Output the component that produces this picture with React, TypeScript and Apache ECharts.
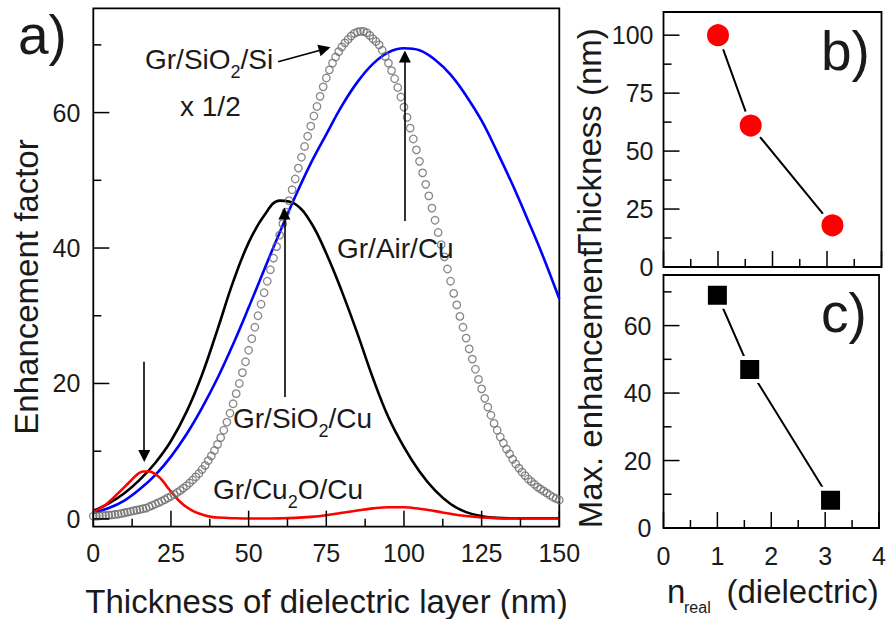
import React, { useEffect, useRef } from 'react';
import * as echarts from 'echarts';

const FONT = "'Liberation Sans', Arial, Helvetica, sans-serif";
const TEXT = '#1a1a1a';

// ---------- panel a) : enhancement factor vs thickness ----------
const lineX = [0, 5, 10, 15, 20, 25, 30, 35, 40, 45, 50, 55, 60, 65, 70, 75, 80, 85, 90, 95, 100, 105, 110, 115, 120, 125, 130, 135, 140, 145, 150];
const sio2CuY = [1.2, 2.3, 3.8, 5.8, 8.3, 11.5, 15.8, 21.3, 28.0, 35.0, 40.8, 44.8, 47.0, 46.5, 43.8, 39.2, 33.6, 27.4, 20.8, 15.0, 10.6, 7.0, 4.2, 2.2, 1.0, 0.4, 0.15, 0.1, 0.1, 0.1, 0.1];
const airCuY = [0.9, 1.6, 2.7, 4.4, 6.5, 9.2, 12.5, 16.4, 20.8, 25.8, 31.2, 36.8, 42.3, 47.6, 52.5, 56.8, 61.0, 64.5, 67.2, 68.9, 69.5, 69.2, 67.8, 65.6, 62.5, 58.8, 54.2, 49.3, 44.0, 38.5, 32.5];
const cu2oX = [0, 2, 4, 6, 8, 10, 12, 14, 16, 18, 20, 22, 24, 26, 28, 30, 32, 34, 36, 38, 40, 45, 50, 55, 60, 65, 70, 75, 80, 85, 90, 95, 100, 105, 110, 115, 120, 125, 130, 135, 140, 145, 150];
const cu2oY = [1.0, 1.5, 2.1, 2.9, 3.8, 4.7, 5.6, 6.5, 7.0, 7.0, 6.6, 5.8, 4.6, 3.5, 2.5, 1.75, 1.2, 0.8, 0.5, 0.3, 0.2, 0.1, 0.05, 0.05, 0.08, 0.15, 0.3, 0.55, 0.9, 1.25, 1.55, 1.72, 1.72, 1.5, 1.15, 0.75, 0.42, 0.2, 0.1, 0.06, 0.05, 0.05, 0.05];
// Gr/SiO2/Si (x 1/2), one circle per nm from 0 to 150 nm
const sio2SiStart = 0;
const sio2SiStep = 1;
const sio2SiY = [
  0.4, 0.4, 0.45, 0.5, 0.5, 0.55, 0.6, 0.65, 0.7, 0.8,
  0.9, 1.0, 1.1, 1.2, 1.3, 1.4, 1.5, 1.6, 1.8, 2.0,
  2.2, 2.4, 2.6, 2.85, 3.1, 3.35, 3.6, 3.9, 4.2, 4.55,
  4.9, 5.3, 5.75, 6.2, 6.7, 7.3, 7.9, 8.6, 9.3, 10.1,
  11.0, 12.0, 13.1, 14.3, 15.6, 17.0, 18.5, 20.0, 21.6, 23.2,
  24.9, 26.6, 28.3, 30.0, 31.7, 33.4, 35.1, 36.8, 38.5, 40.2,
  41.9, 43.6, 45.3, 47.0, 48.6, 50.2, 51.8, 53.4, 55.0, 56.5,
  58.0, 59.5, 60.9, 62.4, 63.8, 65.1, 66.3, 67.3, 68.2, 69.0,
  69.7, 70.3, 70.8, 71.3, 71.7, 71.9, 72.0, 72.0, 71.8, 71.4,
  70.9, 70.5, 70.0, 69.2, 68.3, 67.3, 66.2, 65.0, 63.7, 62.3,
  60.8, 59.3, 57.7, 56.1, 54.5, 52.8, 51.1, 49.4, 47.7, 45.9,
  44.1, 42.3, 40.5, 38.7, 36.9, 35.1, 33.3, 31.6, 29.9, 28.3,
  26.7, 25.1, 23.6, 22.1, 20.6, 19.2, 17.8, 16.5, 15.3, 14.1,
  13.1, 12.1, 11.2, 10.3, 9.6, 8.8, 8.1, 7.5, 6.9, 6.4,
  5.9, 5.5, 5.1, 4.7, 4.4, 4.1, 3.8, 3.5, 3.2, 3.0,
  2.8,
];
const mainXMajor = [0, 25, 50, 75, 100, 125, 150];
const mainXMinor = [12.5, 37.5, 62.5, 87.5, 112.5, 137.5];
const mainYMajor = [0, 20, 40, 60];
const mainYMinor = [10, 30, 50, 70];

// ---------- panel b) and c) ----------
const nReal = [1, 1.6, 3.1];
const optThickness = [100, 61, 18];
const maxEnhancement = [69, 47, 8.2];
const nXMajor = [0, 1, 2, 3, 4];
const nXMinor = [0.5, 1.5, 2.5, 3.5];
const bYMajor = [0, 25, 50, 75, 100];
const bYMinor = [12.5, 37.5, 62.5, 87.5];
const cYMajor = [0, 20, 40, 60];
const cYMinor = [10, 30, 50, 70];

// arrows (tail -> head) in data coordinates of panel a)
const ARROWS: { from: number[]; to: number[] }[] = [
  { from: [59.5, 67.5], to: [74.5, 69.4] },
  { from: [100.3, 44.0], to: [100.3, 68.3] },
  { from: [61.5, 18.0], to: [61.5, 45.1] },
  { from: [16.4, 23.2], to: [16.4, 9.3] },
];

const zip = (xs: number[], ys: number[]) => xs.map((x, i) => [x, ys[i]]);

const BLACK = '#000';
const BORDER_W = 1.8;
const MAJOR_LEN = 16;
const MINOR_LEN = 8;

// layout of the three plot frames (pixels) and their axis ranges
const GRIDS = [
  { left: 93.3, top: 8.3, width: 466, height: 518.4, xMin: 0, xMax: 150, yMin: -1.15, yMax: 75.4 },
  { left: 663.5, top: 12, width: 218, height: 255, xMin: 0, xMax: 4, yMin: 0, yMax: 110 },
  { left: 663.5, top: 275, width: 218, height: 253, xMin: 0, xMax: 4, yMin: 0, yMax: 75 },
];
const TICKS = [
  { xMajor: mainXMajor, xMinor: mainXMinor, yMajor: mainYMajor, yMinor: mainYMinor },
  { xMajor: nXMajor, xMinor: nXMinor, yMajor: bYMajor, yMinor: bYMinor },
  { xMajor: nXMajor, xMinor: nXMinor, yMajor: cYMajor, yMinor: cYMinor },
];

// tick records: [value, direction (0 = bottom axis, 1 = left axis), length in px]
function tickRecords(k: number) {
  const t = TICKS[k];
  const rec: number[][] = [];
  t.xMajor.forEach((v) => rec.push([v, 0, MAJOR_LEN]));
  t.xMinor.forEach((v) => rec.push([v, 0, MINOR_LEN]));
  t.yMajor.forEach((v) => rec.push([v, 1, MAJOR_LEN]));
  t.yMinor.forEach((v) => rec.push([v, 1, MINOR_LEN]));
  return rec;
}

// inward tick marks drawn by a custom series through the axes' own scales
function tickSeries(k: number) {
  const g = GRIDS[k];
  return {
    type: 'custom', name: 'ticks' + k, xAxisIndex: k, yAxisIndex: k, silent: true, z: 20, clip: false,
    animation: false, tooltip: { show: false },
    dimensions: ['v', 'dir', 'len'],
    encode: { x: -1, y: -1 },
    data: tickRecords(k),
    renderItem: (params: any, api: any) => {
      const v = api.value(0);
      const dir = api.value(1);
      const len = api.value(2);
      if (dir === 0) {
        const p = api.coord([v, g.yMin]);
        return { type: 'line', shape: { x1: p[0], y1: p[1], x2: p[0], y2: p[1] - len }, style: { stroke: BLACK, lineWidth: 1.5 } };
      }
      const p = api.coord([g.xMin, v]);
      return { type: 'line', shape: { x1: p[0], y1: p[1], x2: p[0] + len, y2: p[1] }, style: { stroke: BLACK, lineWidth: 1.5 } };
    },
  };
}

function xAxis(gridIndex: number, interval: number, showLabel: boolean, labelMargin: number) {
  const g = GRIDS[gridIndex];
  return {
    type: 'value', gridIndex, min: g.xMin, max: g.xMax, interval, position: 'bottom',
    axisLine: { show: false, onZero: false },
    axisTick: { show: false },
    axisLabel: { show: showLabel, fontSize: 25, fontFamily: FONT, color: TEXT, margin: labelMargin },
    splitLine: { show: false },
  };
}

function yAxis(gridIndex: number, major: number[], labelMargin: number) {
  const g = GRIDS[gridIndex];
  return {
    type: 'value', gridIndex, min: g.yMin, max: g.yMax, position: 'left',
    axisLine: { show: false, onZero: false },
    axisTick: { show: false },
    axisLabel: { show: true, customValues: major, fontSize: 25, fontFamily: FONT, color: TEXT, margin: labelMargin },
    splitLine: { show: false },
  };
}

function plainText(text: string, x: number, y: number, size: number, align: string, rotation = 0) {
  return {
    type: 'text', x, y, rotation, silent: true, z: 10,
    style: { text, fontSize: size, fontFamily: FONT, fill: TEXT, align, verticalAlign: 'middle' },
  };
}

function subText(rich: string, left: number, top: number) {
  return {
    type: 'text', x: left, y: top, silent: true, z: 10,
    style: {
      text: rich, align: 'left', verticalAlign: 'top',
      rich: {
        m: { fontSize: 28, fontFamily: FONT, fill: TEXT, verticalAlign: 'top' },
        s: { fontSize: 18, fontFamily: FONT, fill: TEXT, verticalAlign: 'top', padding: [18, 0, 0, 0] },
      },
    },
  };
}

const texts = [
  plainText('a)', 18, 35, 55, 'left'),
  plainText('b)', 821, 51, 55, 'left'),
  plainText('c)', 821, 313, 55, 'left'),
  plainText('Thickness of dielectric layer (nm)', 326.5, 601.5, 33, 'center'),
  plainText('Enhancement factor', 26, 287, 33, 'center', Math.PI / 2),
  plainText('Thickness (nm)', 589, 141, 33, 'center', Math.PI / 2),
  plainText('Max. enhancement', 590, 388, 33, 'center', Math.PI / 2),
  plainText('n', 667, 591.6, 33, 'left'),
  plainText('real', 684, 607.5, 16, 'left'),
  plainText('(dielectric)', 726.5, 591.6, 33, 'left'),
  subText('{m|Gr/SiO}{s|2}{m|/Si}', 145, 45),
  subText('{m|x 1/2}', 180, 92),
  subText('{m|Gr/Air/Cu}', 337, 234),
  subText('{m|Gr/SiO}{s|2}{m|/Cu}', 233, 404),
  subText('{m|Gr/Cu}{s|2}{m|O/Cu}', 213, 475),
];

const gridBase = { show: true, borderColor: BLACK, borderWidth: BORDER_W, backgroundColor: 'transparent' };

const option: any = {
  animation: false,
  backgroundColor: '#fff',
  grid: GRIDS.map((g) => ({ ...gridBase, left: g.left, top: g.top, width: g.width, height: g.height })),
  xAxis: [
    xAxis(0, 25, true, 14),
    xAxis(1, 1, false, 14),
    xAxis(2, 1, true, 15),
  ],
  yAxis: [
    yAxis(0, mainYMajor, 13),
    yAxis(1, bYMajor, 10),
    yAxis(2, cYMajor, 12),
  ],
  graphic: { elements: texts },
  series: [
    {
      name: 'Gr/SiO2/Cu', type: 'line', xAxisIndex: 0, yAxisIndex: 0, smooth: 0.4, showSymbol: false,
      data: zip(lineX, sio2CuY), lineStyle: { color: '#000', width: 2.6 }, itemStyle: { color: '#000' }, z: 3,
    },
    {
      name: 'Gr/Air/Cu', type: 'line', xAxisIndex: 0, yAxisIndex: 0, smooth: 0.4, showSymbol: false,
      data: zip(lineX, airCuY), lineStyle: { color: '#0000ff', width: 2.6 }, itemStyle: { color: '#0000ff' }, z: 3,
      markLine: {
        silent: true, symbol: ['none', 'triangle'], symbolSize: 12, animation: false,
        label: { show: false }, emphasis: { disabled: true },
        lineStyle: { color: '#000', width: 1.6, type: 'solid', opacity: 1 },
        itemStyle: { color: '#000' },
        data: ARROWS.map((a) => [{ coord: a.from }, { coord: a.to }]),
      },
    },
    {
      name: 'Gr/Cu2O/Cu', type: 'line', xAxisIndex: 0, yAxisIndex: 0, smooth: 0.4, showSymbol: false,
      data: zip(cu2oX, cu2oY), lineStyle: { color: '#ff0000', width: 2.6 }, itemStyle: { color: '#ff0000' }, z: 3,
    },
    {
      name: 'Gr/SiO2/Si', type: 'scatter', xAxisIndex: 0, yAxisIndex: 0, symbol: 'circle', symbolSize: 7.5,
      data: sio2SiY.map((v, i) => [sio2SiStart + i * sio2SiStep, v]),
      itemStyle: { color: 'rgba(255,255,255,0)', borderColor: '#6a6a6a', borderWidth: 1.3 }, z: 4,
    },
    {
      name: 'Thickness', type: 'line', xAxisIndex: 1, yAxisIndex: 1, symbol: 'circle', symbolSize: 26,
      data: zip(nReal, optThickness),
      lineStyle: { color: '#000', width: 2 },
      itemStyle: { color: '#ff0000', borderColor: '#fff', borderWidth: 4 },
    },
    {
      name: 'Max. enhancement', type: 'line', xAxisIndex: 2, yAxisIndex: 2, symbol: 'rect', symbolSize: 23,
      data: zip(nReal, maxEnhancement),
      lineStyle: { color: '#000', width: 2 },
      itemStyle: { color: '#000', borderColor: '#fff', borderWidth: 4 },
    },
    tickSeries(0),
    tickSeries(1),
    tickSeries(2),
  ],
};

export default function App() {
  const ref = useRef<HTMLDivElement>(null);
  useEffect(() => {
    document.body.style.margin = '0';
    const chart = echarts.init(ref.current!, null, { renderer: 'svg' });
    chart.setOption(option);
    return () => chart.dispose();
  }, []);
  return <div ref={ref} style={{ width: 889, height: 619 }} />;
}
